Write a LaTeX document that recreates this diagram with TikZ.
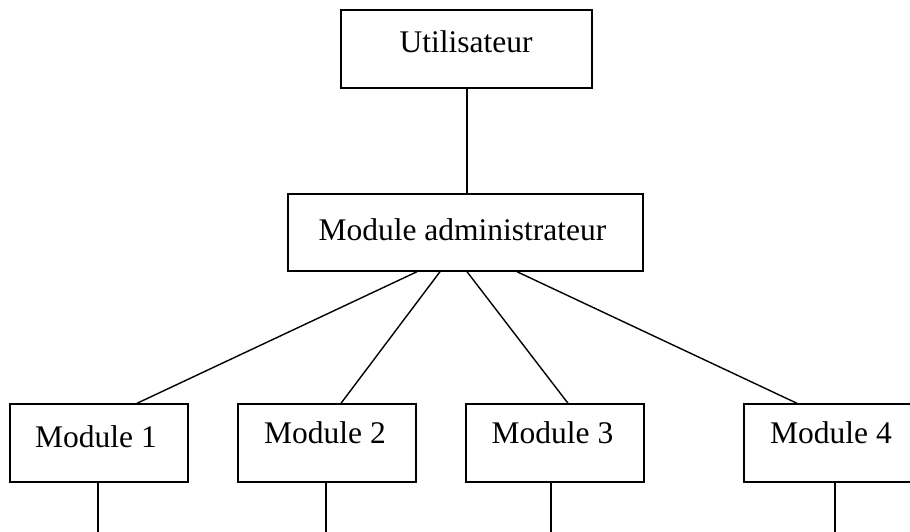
\documentclass[tikz,border=0pt]{standalone}
\usepackage{fontspec}
\setmainfont{Liberation Serif}
\begin{document}
\begin{tikzpicture}[x=1pt,y=-1pt,
  box/.style={draw,line width=1.4pt,inner sep=0pt,rectangle},
  lbl/.style={anchor=base,inner sep=0pt,font=\fontsize{31.5}{36}\selectfont},
  conn/.style={line width=1.4pt}]
\useasboundingbox (0,0) rectangle (910,531);
\clip (0,0) rectangle (910,531);
% boxes
\node[box,minimum width=251pt,minimum height=78pt] (u) at (466.5,49) {};
\node[box,minimum width=355pt,minimum height=77pt] (a) at (465.5,232.5) {};
\node[box,minimum width=178pt,minimum height=78pt] (m1) at (99,443) {};
\node[box,minimum width=178pt,minimum height=78pt] (m2) at (327,443) {};
\node[box,minimum width=178pt,minimum height=78pt] (m3) at (555,443) {};
\node[box,minimum width=178pt,minimum height=78pt] (m4) at (833,443) {};
% texts
\node[lbl] (tu) at (466,52) {Utilisateur};
\node[lbl] (ta) at (462.5,240) {Module administrateur};
\node[lbl] (t1) at (96,447) {Module 1};
\node[lbl] (t2) at (325,443) {Module 2};
\node[lbl] (t3) at (552.5,443) {Module 3};
\node[lbl] (t4) at (831,443) {Module 4};
% free ends
\coordinate (e1) at (98,540);
\coordinate (e2) at (326,540);
\coordinate (e3) at (551,540);
\coordinate (e4) at (835,540);
% connectors
\draw[conn] ([xshift=0.5pt]u.south) -- ([xshift=0.5pt]u.south |- a.north);
\draw[conn] ([xshift=-48.5pt]a.south) -- ([xshift=38pt]m1.north);
\draw[conn] ([xshift=-25.5pt]a.south) -- ([xshift=14pt]m2.north);
\draw[conn] ([xshift=1.5pt]a.south) -- ([xshift=13pt]m3.north);
\draw[conn] ([xshift=51.5pt]a.south) -- ([xshift=-36pt]m4.north);
\draw[conn] (m1.south -| e1) -- (e1);
\draw[conn] (m2.south -| e2) -- (e2);
\draw[conn] (m3.south -| e3) -- (e3);
\draw[conn] (m4.south -| e4) -- (e4);
\end{tikzpicture}
\end{document}
